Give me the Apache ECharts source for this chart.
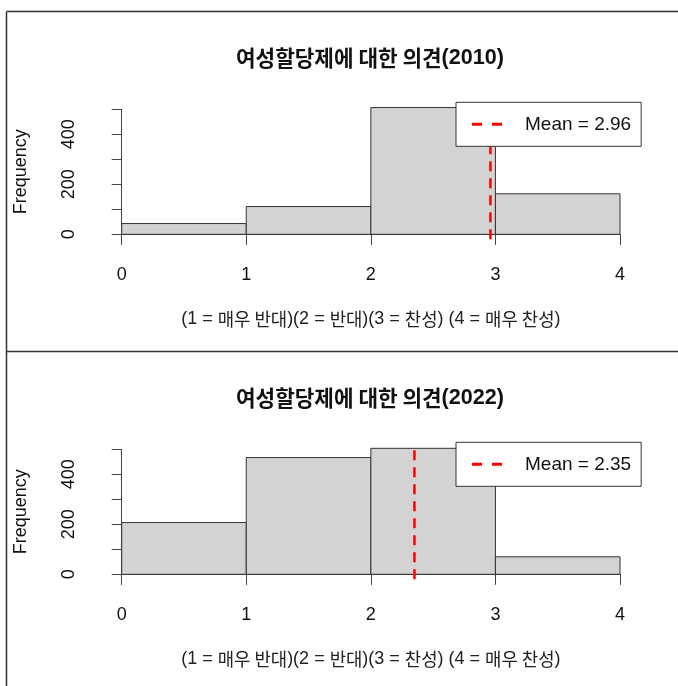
<!DOCTYPE html>
<html>
<head>
<meta charset="utf-8">
<script src="https://cdn.jsdelivr.net/npm/echarts@6/dist/echarts.min.js"></script>
<style>
  html, body { margin: 0; padding: 0; background: #fff; }
  #chart { width: 678px; height: 686px; }
</style>
</head>
<body>
<div id="chart"></div>
<script>
// Histogram bins (response scale 0-4, unit-wide bins)
var breaks = [0, 1, 2, 3, 4];
var counts2010 = [43, 111, 507, 162];
var counts2022 = [207, 467, 504, 70];
var mean2010 = 2.96;
var mean2022 = 2.35;
var yTicks = [0, 100, 200, 300, 400, 500];
var xTicks = [0, 1, 2, 3, 4];
var titles = ['여성할당제에 대한 의견(2010)', '여성할당제에 대한 의견(2022)'];
var xLabel = '(1 = 매우 반대)(2 = 반대)(3 = 찬성) (4 = 매우 찬성)';
var yLabel = 'Frequency';

var LATIN = '"Liberation Sans", Arial, sans-serif';
var HANGUL = '"Noto Sans CJK KR", sans-serif';
var INK = '#111';

// Wrap runs of Hangul in a rich-text tag so they can use a CJK font size
function richKo(s) {
  return s.replace(/([\uAC00-\uD7A3]+(?: [\uAC00-\uD7A3]+)*)/g, '{k|$1}');
}

// Two short dashes, used as the legend key for the mean line
var DASH_ICON = 'path://M0,0 H10 V3 H0 Z M20,0 H30 V3 H20 Z';

var panels = [
  { counts: counts2010, mean: mean2010, title: titles[0], off: 0 },
  { counts: counts2022, mean: mean2022, title: titles[1], off: 340 }
];

var grids = [], xAxes = [], yAxes = [], series = [], legends = [], graphics = [];

panels.forEach(function (p, i) {
  var top = 109.3 + p.off;
  grids.push({ left: 121.7, right: 58, top: top, height: 125, containLabel: false });

  xAxes.push({
    gridIndex: i, type: 'value', min: xTicks[0], max: xTicks[xTicks.length - 1], interval: 1,
    position: 'bottom', offset: 5.5,
    axisLine: { show: true, lineStyle: { color: '#444', width: 1 } },
    axisTick: { show: true, inside: false, length: 10.5, lineStyle: { color: '#444' } },
    axisLabel: { margin: 26, color: INK, fontFamily: LATIN, fontSize: 18 },
    splitLine: { show: false },
    name: richKo(xLabel), nameLocation: 'middle', nameGap: 70,
    nameTextStyle: {
      color: '#222', fontFamily: LATIN, fontSize: 18,
      rich: { k: { fontFamily: HANGUL, fontSize: 17.8, color: '#222' } }
    }
  });

  yAxes.push({
    gridIndex: i, type: 'value', min: yTicks[0], max: yTicks[yTicks.length - 1], interval: 100,
    position: 'left', offset: 21.7,
    axisLine: { show: true, lineStyle: { color: '#444', width: 1 } },
    axisTick: { show: true, inside: false, length: 10, lineStyle: { color: '#444' } },
    axisLabel: {
      rotate: 90, margin: 22, color: INK, fontFamily: LATIN, fontSize: 18,
      formatter: function (v) { return v % 200 === 0 ? String(v) : ''; }
    },
    splitLine: { show: false },
    name: yLabel, nameLocation: 'middle', nameGap: 70, nameRotate: 90,
    nameTextStyle: { color: INK, fontFamily: LATIN, fontSize: 18 }
  });

  var bins = p.counts.map(function (c, k) { return [breaks[k], breaks[k + 1], c]; });
  series.push({
    type: 'custom', name: 'hist' + i, xAxisIndex: i, yAxisIndex: i,
    data: bins, encode: { x: [0, 1], y: 2 }, silent: true,
    renderItem: function (params, api) {
      var a = api.coord([api.value(0), api.value(2)]);
      var b = api.coord([api.value(1), 0]);
      return {
        type: 'rect',
        shape: { x: a[0], y: a[1], width: b[0] - a[0], height: b[1] - a[1] },
        style: { fill: '#D3D3D3', stroke: '#333', lineWidth: 1 }
      };
    },
    z: 2
  });

  // Vertical mean line spans the plotting region (data range padded by 4%)
  var maxC = Math.max.apply(null, p.counts);
  var meanName = 'Mean = ' + p.mean.toFixed(2);
  series.push({
    type: 'line', name: meanName, xAxisIndex: i, yAxisIndex: i,
    data: [[p.mean, -0.04 * maxC], [p.mean, 1.04 * maxC]],
    symbol: 'none', clip: false, silent: true,
    lineStyle: { color: '#FF0000', width: 2.5, type: [10, 7] },
    itemStyle: { color: '#FF0000' },
    z: 3
  });

  legends.push({
    data: [{ name: meanName, icon: DASH_ICON }], left: 456, top: 102.3 + p.off,
    orient: 'horizontal', selectedMode: false,
    itemWidth: 30, itemHeight: 3,
    itemStyle: { color: '#FF0000', borderWidth: 0 },
    lineStyle: { opacity: 0 },
    padding: [12, 10, 12, 16],
    backgroundColor: '#fff', borderColor: '#333', borderWidth: 1,
    textStyle: { color: INK, fontFamily: LATIN, fontSize: 19, lineHeight: 20, padding: [0, 0, 0, 18] },
    z: 10
  });

  graphics.push({
    type: 'text', x: 370, y: 58 + p.off, z: 20,
    style: {
      text: richKo(p.title), align: 'center', verticalAlign: 'middle',
      fill: INK, font: 'bold 21.6px ' + LATIN,
      rich: { k: { fontFamily: HANGUL, fontWeight: 'bold', fontSize: 21.3, fill: INK } }
    }
  });
});

// Panel frame lines
var frameStyle = { stroke: '#333', lineWidth: 1.5 };
graphics.push({ type: 'line', shape: { x1: 6.5, y1: 11.5, x2: 678, y2: 11.5 }, style: frameStyle });
graphics.push({ type: 'line', shape: { x1: 6.5, y1: 11.5, x2: 6.5, y2: 686 }, style: frameStyle });
graphics.push({ type: 'line', shape: { x1: 6.5, y1: 351.5, x2: 678, y2: 351.5 }, style: frameStyle });

var chart = echarts.init(document.getElementById('chart'), null, { renderer: 'canvas' });
chart.setOption({
  animation: false,
  backgroundColor: '#fff',
  grid: grids, xAxis: xAxes, yAxis: yAxes,
  legend: legends, series: series, graphic: graphics
});
</script>
</body>
</html>
